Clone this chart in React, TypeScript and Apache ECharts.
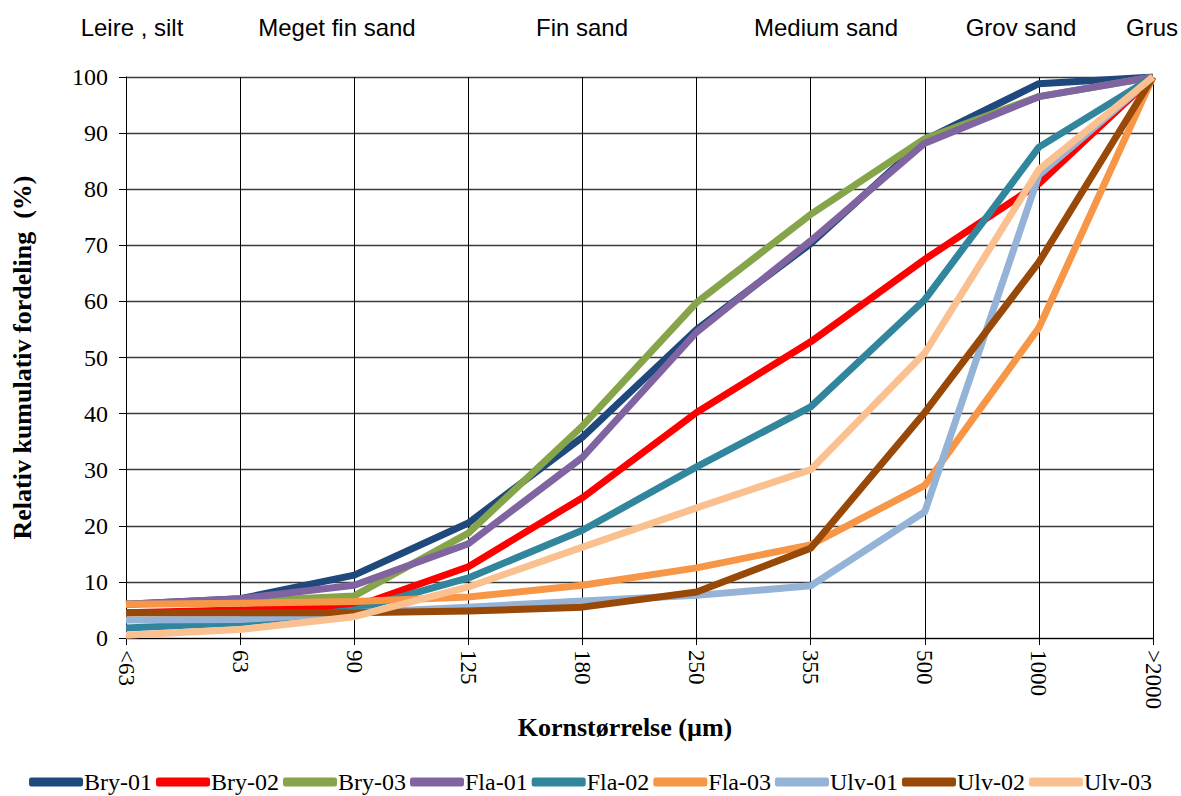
import React, { useEffect, useRef } from "react";
import * as echarts from "echarts";

const categories = ["<63", "63", "90", "125", "180", "250", "355", "500", "1000", ">2000"];

const bry01 = [6, 7, 11.2, 20.5, 35.8, 55, 70.3, 88.8, 98.8, 100];
const bry02 = [4.5, 5, 5.5, 12.7, 25, 40.2, 52.8, 67.5, 81, 100];
const bry03 = [6, 6.5, 7.5, 18.7, 37.8, 59.8, 75.5, 89, 96.5, 100];
const fla01 = [6, 7, 9.4, 16.8, 32.2, 54.5, 70.8, 88.2, 96.5, 100];
const fla02 = [1.8, 2.7, 5, 10.7, 19.2, 30.5, 41.2, 60.3, 87.5, 100];
const fla03 = [6, 6.2, 6.5, 7.3, 9.4, 12.5, 16.6, 27.2, 55.3, 100];
const ulv01 = [3.2, 3.3, 4.5, 5.5, 6.6, 7.6, 9.3, 22.5, 82.5, 100];
const ulv02 = [4.5, 4.5, 4.5, 4.8, 5.5, 8.2, 16, 40.2, 67, 100];
const ulv03 = [0.5, 1.5, 3.8, 9.1, 16.2, 23.2, 30, 50.8, 83.5, 100];

const seriesNames = ["Bry-01", "Bry-02", "Bry-03", "Fla-01", "Fla-02", "Fla-03", "Ulv-01", "Ulv-02", "Ulv-03"];
const seriesData = [bry01, bry02, bry03, fla01, fla02, fla03, ulv01, ulv02, ulv03];
const seriesColors = ["#1F497D", "#FF0000", "#86A44A", "#8064A2", "#31859C", "#F79646", "#95B3D7", "#984807", "#FAC090"];

const zoneLabels = ["Leire , silt", "Meget fin sand", "Fin sand", "Medium sand", "Grov sand", "Grus"];
const zoneCenters = [132, 337, 582, 826, 1021, 1152];

const SERIF = "'Liberation Serif', 'Times New Roman', serif";
const SANS = "'Liberation Sans', Arial, sans-serif";

export default function App() {
  const ref = useRef<HTMLDivElement>(null);
  useEffect(() => {
    if (!ref.current) return;
    const chart = echarts.init(ref.current, null, { renderer: "svg" });
    const option: any = {
      animation: false,
      backgroundColor: "#ffffff",
      grid: { left: 126, right: 28, top: 77, bottom: 158, containLabel: false },
      xAxis: {
        type: "category",
        data: categories,
        boundaryGap: false,
        axisLine: { show: true, lineStyle: { color: "#000", width: 1 } },
        axisTick: { show: true, length: 7, alignWithLabel: true, lineStyle: { color: "#000" } },
        splitLine: { show: true, lineStyle: { color: "#000", width: 1 } },
        axisLabel: {
          rotate: -90,
          fontFamily: SERIF,
          fontSize: 23,
          color: "#000",
          margin: 12,
          interval: 0,
        },
      },
      yAxis: {
        type: "value",
        min: 0,
        max: 100,
        interval: 10,
        axisLine: { show: true, lineStyle: { color: "#000", width: 1 } },
        axisTick: { show: true, length: 7, lineStyle: { color: "#000" } },
        splitLine: { show: true, lineStyle: { color: "#3a3a3a", width: 1.3 } },
        axisLabel: { fontFamily: SERIF, fontSize: 24, color: "#000", margin: 18 },
        name: "Relativ kumulativ fordeling  (%)",
        nameLocation: "middle",
        nameGap: 91,
        nameTextStyle: { fontFamily: SERIF, fontSize: 26, fontWeight: "bold", color: "#000" },
      },
      legend: {
        top: 765,
        left: "center",
        itemWidth: 54,
        itemHeight: 9,
        itemGap: 4,
        icon: "roundRect",
        textStyle: { fontFamily: SERIF, fontSize: 24, color: "#000", padding: [0, 0, 0, -4] },
        data: seriesNames,
      },
      graphic: [
        ...zoneLabels.map((t, i) => ({
          type: "text",
          x: zoneCenters[i],
          y: 27,
          style: {
            text: t,
            fontFamily: SANS,
            fontSize: 24,
            fill: "#000",
            align: "center",
            verticalAlign: "middle",
          },
        })),
        {
          type: "text",
          x: 625,
          y: 727,
          style: {
            text: "Kornstørrelse (µm)",
            fontFamily: SERIF,
            fontSize: 26,
            fontWeight: "bold",
            fill: "#000",
            align: "center",
            verticalAlign: "middle",
          },
        },
      ],
      series: seriesNames.map((n, i) => ({
        name: n,
        type: "line",
        data: seriesData[i],
        symbol: "none",
        lineStyle: { color: seriesColors[i], width: 7, join: "round" },
        itemStyle: { color: seriesColors[i] },
      })),
    };
    chart.setOption(option);
    return () => chart.dispose();
  }, []);
  return <div ref={ref} style={{ width: 1181, height: 796, position: "absolute", left: 0, top: 0 }} />;
}
